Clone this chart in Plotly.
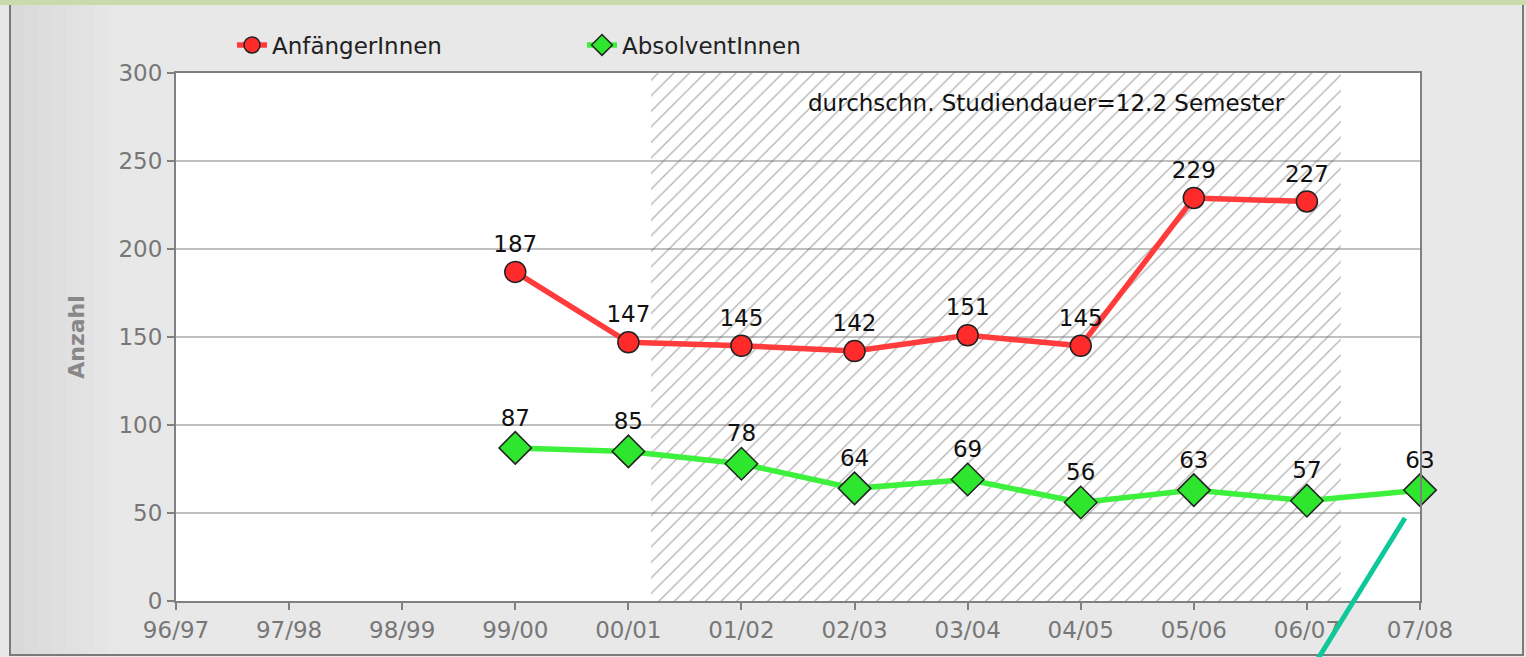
import plotly.graph_objects as go

# Study years on the category axis
years = ["96/97", "97/98", "98/99", "99/00", "00/01", "01/02",
         "02/03", "03/04", "04/05", "05/06", "06/07", "07/08"]

# Beginners and graduates per study year (None = no data)
anfaenger = [None, None, None, 187, 147, 145, 142, 151, 145, 229, 227, None]
absolventen = [None, None, None, 87, 85, 78, 64, 69, 56, 63, 57, 63]

# Hatched span covering the average study duration (12.2 semesters = 6.1 years)
hatch_start = 4.2
hatch_end = 10.3
y_max = 300
y_ticks = [0, 50, 100, 150, 200, 250, 300]

x_pos = list(range(len(years)))
FONT = "DejaVu Sans"

fig = go.Figure()

# Hatched region
fig.add_trace(go.Scatter(
    x=[hatch_start, hatch_end, hatch_end, hatch_start, hatch_start],
    y=[0, 0, y_max, y_max, 0],
    mode="lines", line=dict(width=0, color="rgba(0,0,0,0)"),
    fill="toself", fillcolor="rgba(0,0,0,0)",
    fillpattern=dict(shape="/", fgcolor="#666666", bgcolor="rgba(0,0,0,0)",
                     size=11, solidity=0.12),
    showlegend=False, hoverinfo="skip",
))

fig.add_trace(go.Scatter(
    x=x_pos, y=anfaenger, name="AnfängerInnen",
    mode="lines+markers+text",
    line=dict(color="#ff3b3b", width=5.5),
    marker=dict(symbol="circle", size=21, color="#ff2a2a",
                line=dict(color="#222222", width=1.5)),
    text=[str(v) if v is not None else "" for v in anfaenger],
    textposition="top center",
    textfont=dict(family=FONT, size=23, color="#111111"),
    cliponaxis=False, connectgaps=False,
))

fig.add_trace(go.Scatter(
    x=x_pos, y=absolventen, name="AbsolventInnen",
    mode="lines+markers+text",
    line=dict(color="#3cf03c", width=5.5),
    marker=dict(symbol="diamond", size=25, color="#2ee62e",
                line=dict(color="#222222", width=1.5)),
    text=[str(v) if v is not None else "" for v in absolventen],
    textposition="top center",
    textfont=dict(family=FONT, size=23, color="#111111"),
    cliponaxis=False, connectgaps=False,
))

L, R, T, B = 176, 106, 73, 56
W, H = 1526, 657
pw, ph = W - L - R, H - T - B


def px(xp):
    return (xp - L) / pw


def py(yp):
    return (H - B - yp) / ph


shapes = []
# Background shading strips (darker toward the left edge)
shade = ["#d9d9d9", "#dbdbdb", "#dddddd", "#dfdfdf", "#e1e1e1",
         "#e3e3e3", "#e5e5e5", "#e7e7e7"]
for i, c in enumerate(shade):
    shapes.append(dict(type="rect", xref="paper", yref="paper",
                       x0=px(10 + i * 14), x1=px(10 + (i + 1) * 14),
                       y0=py(655), y1=py(5), fillcolor=c, line_width=0,
                       layer="below"))
# Outer frame
shapes.append(dict(type="rect", xref="paper", yref="paper",
                   x0=px(0), x1=px(W), y0=py(5), y1=py(0),
                   fillcolor="#c9dbab", line_width=0, layer="below"))
shapes.append(dict(type="line", xref="paper", yref="paper",
                   x0=px(10), x1=px(10), y0=py(656), y1=py(5),
                   line=dict(color="#7a7a7a", width=2), layer="below"))
shapes.append(dict(type="line", xref="paper", yref="paper",
                   x0=px(1523), x1=px(1523), y0=py(656), y1=py(5),
                   line=dict(color="#7a7a7a", width=2), layer="below"))
shapes.append(dict(type="line", xref="paper", yref="paper",
                   x0=px(10), x1=px(1523), y0=py(655), y1=py(655),
                   line=dict(color="#7a7a7a", width=2), layer="below"))
# Teal marker stroke
shapes.append(dict(type="line", xref="paper", yref="paper",
                   x0=px(1405), y0=py(518), x1=px(1316), y1=py(662),
                   line=dict(color="#0fc89a", width=5), layer="above"))

fig.update_layout(
    width=W, height=H,
    margin=dict(l=L, r=R, t=T, b=B),
    paper_bgcolor="#e8e8e8",
    plot_bgcolor="#ffffff",
    font=dict(family=FONT, size=22, color="#777777"),
    hovermode=False,
    shapes=shapes,
    showlegend=True,
    legend=dict(orientation="h", x=px(232), xanchor="left",
                y=py(45), yanchor="middle",
                font=dict(family=FONT, size=23, color="#222222"),
                bgcolor="rgba(0,0,0,0)",
                entrywidth=305, entrywidthmode="pixels",
                traceorder="normal"),
    annotations=[dict(
        x=7.7, y=283, xref="x", yref="y",
        text="durchschn. Studiendauer=12.2 Semester",
        showarrow=False,
        font=dict(family=FONT, size=23, color="#111111"),
    )],
)

fig.update_xaxes(
    range=[0, 11], tickvals=x_pos, ticktext=years,
    showgrid=False, zeroline=False,
    showline=True, linecolor="#808080", linewidth=2, mirror=True,
    ticks="outside", ticklen=7, tickcolor="#808080", tickwidth=2,
    tickfont=dict(family=FONT, size=23, color="#777777"),
)
fig.update_yaxes(
    range=[0, y_max], tickvals=y_ticks,
    showgrid=True, gridcolor="#c0c0c0", gridwidth=1.5,
    zeroline=False,
    showline=True, linecolor="#808080", linewidth=2, mirror=True,
    ticks="outside", ticklen=7, tickcolor="#808080", tickwidth=2,
    tickfont=dict(family=FONT, size=23, color="#777777"),
    title=dict(text="<b>Anzahl</b>", standoff=28,
               font=dict(family=FONT, size=22, color="#888888")),
)

fig.write_html("out.html")
